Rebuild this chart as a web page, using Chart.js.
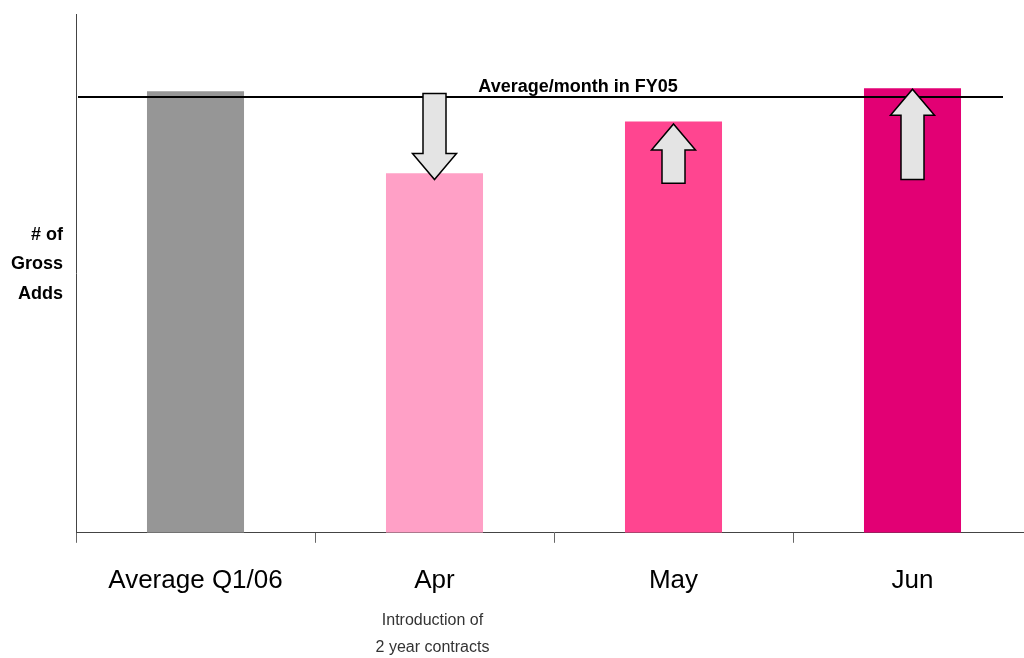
<!DOCTYPE html>
<html>
<head>
<meta charset="utf-8">
<script src="https://cdn.jsdelivr.net/npm/chart.js@4/dist/chart.umd.min.js"></script>
<style>
  html, body { margin: 0; padding: 0; background: #fff; overflow: hidden; }
  #wrap { position: relative; width: 1040px; height: 658px; }
</style>
</head>
<body>
<div id="wrap"><canvas id="grossChart"></canvas></div>
<script>
var categories = ["Average Q1/06", "Apr", "May", "Jun"];
var grossAdds = [85.1, 69.3, 79.3, 85.7];
var barColors = ["#969696", "#ffa0c6", "#ff4590", "#e20074"];
var avgFY05 = 84.0;
var avgLabel = "Average/month in FY05";
// block arrows: start and end value per category (null = no arrow)
var arrowFrom = [null, 84.7, 67.4, 68.1];
var arrowTo = [null, 68.1, 78.8, 85.5];
var yTitle = ["# of", "Gross", "Adds"];
var aprNote = ["Introduction of", "2 year contracts"];

var overlay = {
  id: 'overlay',
  afterDatasetsDraw: function(chart) {
    var c = chart.ctx, x = chart.scales.x, y = chart.scales.y, a = chart.chartArea;
    var ly = y.getPixelForValue(avgFY05);
    c.save();
    c.strokeStyle = "#000";
    c.lineWidth = 2;
    c.beginPath();
    c.moveTo(a.left + 2, ly);
    c.lineTo(a.right - 29, ly);
    c.stroke();
    c.fillStyle = "#000";
    c.font = "bold 18px 'Liberation Sans', Arial, sans-serif";
    c.textAlign = "center";
    c.textBaseline = "alphabetic";
    c.fillText(avgLabel, 578, ly - 5);

    // arrows
    c.fillStyle = "#e4e4e4";
    c.strokeStyle = "#000";
    c.lineWidth = 1.5;
    c.lineJoin = "miter";
    for (var i = 0; i < categories.length; i++) {
      if (arrowFrom[i] == null) continue;
      var cx = x.getPixelForValue(i);
      var y0 = y.getPixelForValue(arrowFrom[i]);
      var y1 = y.getPixelForValue(arrowTo[i]);
      var dir = y1 > y0 ? 1 : -1;
      var sw = 11.5, hw = 22, hl = 26;
      var hb = y1 - dir * hl;
      c.beginPath();
      c.moveTo(cx - sw, y0);
      c.lineTo(cx + sw, y0);
      c.lineTo(cx + sw, hb);
      c.lineTo(cx + hw, hb);
      c.lineTo(cx, y1);
      c.lineTo(cx - hw, hb);
      c.lineTo(cx - sw, hb);
      c.closePath();
      c.fill();
      c.stroke();
    }
    c.restore();
  },
  afterDraw: function(chart) {
    var c = chart.ctx, x = chart.scales.x;
    c.save();
    c.fillStyle = "#000";
    c.font = "bold 18px 'Liberation Sans', Arial, sans-serif";
    c.textAlign = "right";
    c.textBaseline = "middle";
    for (var i = 0; i < yTitle.length; i++) {
      c.fillText(yTitle[i], 63, 235 + i * 29.5);
    }
    c.fillStyle = "#333";
    c.font = "16px 'Liberation Sans', Arial, sans-serif";
    c.textAlign = "center";
    var ax = x.getPixelForValue(1);
    for (var j = 0; j < aprNote.length; j++) {
      c.fillText(aprNote[j], ax - 2, 621 + j * 27);
    }
    c.restore();
  }
};

var ctx = document.getElementById('grossChart').getContext("2d");

var myChart = new Chart(ctx, {
  type: 'bar',
  data: {
    labels: categories,
    datasets: [{
      label: "# of Gross Adds",
      data: grossAdds,
      backgroundColor: barColors,
      borderWidth: 0,
      barPercentage: 0.406,
      categoryPercentage: 1
    }]
  },
  options: {
    responsive: true,
    maintainAspectRatio: false,
    animation: false,
    layout: {
      padding: { left: 76, top: 14, right: 8, bottom: 40 }
    },
    plugins: {
      legend: { display: false },
      tooltip: { enabled: false }
    },
    scales: {
      x: {
        grid: {
          offset: true,
          drawOnChartArea: false,
          tickLength: 10,
          color: "#666"
        },
        border: { color: "#444", width: 1 },
        ticks: {
          color: "#000",
          padding: 22,
          font: { family: "'Liberation Sans', Arial, sans-serif", size: 26 }
        }
      },
      y: {
        min: 0,
        max: 100,
        grid: { display: false, drawTicks: false, tickLength: 0 },
        border: { color: "#444", width: 1 },
        ticks: { display: false }
      }
    }
  },
  plugins: [overlay]
});
</script>
</body>
</html>
